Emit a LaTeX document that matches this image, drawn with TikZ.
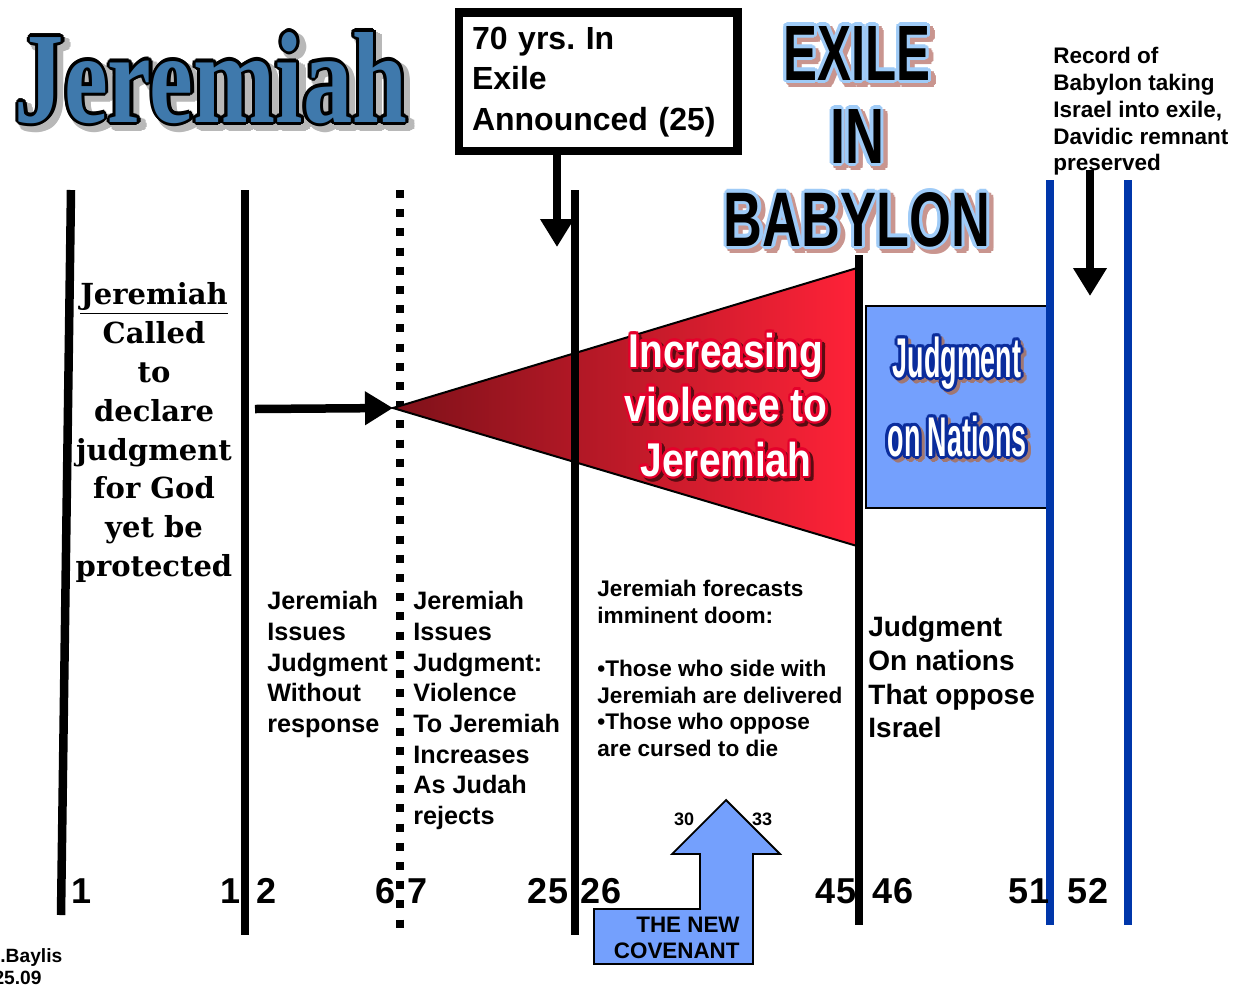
\documentclass[tikz,border=0pt]{standalone}
\usepackage{fontspec}
\setmainfont{Liberation Sans}
\newfontfamily\slabserif{DejaVu Serif}
\newfontfamily\headserif{Liberation Serif}
\usetikzlibrary{arrows.meta}
\frenchspacing

\definecolor{titleblue}{HTML}{3F79AC}
\definecolor{haloblue}{HTML}{9FCBF7}
\definecolor{shadowrose}{HTML}{C9958F}
\definecolor{deepred}{HTML}{7E1119}
\definecolor{brightred}{HTML}{FF2238}
\definecolor{edgered}{HTML}{E5002B}
\definecolor{boxblue}{HTML}{74A0FD}
\definecolor{lineblue}{HTML}{0036AA}
\definecolor{navyhalo}{HTML}{0A2C9C}

% text with a coloured ring round its letters:
% #1 name, #2 position, #3 node options, #4 ring colour, #5 ring radius, #6 face colour, #7 text
\newcommand\halotext[7]{%
  \foreach \hk in {0,30,...,330}{%
    \node[#3,text=#4,shift={(\hk:#5)}] (#1-\hk) at #2 {#7};}%
  \node[#3,text=#6] (#1) at #2 {#7};}

\begin{document}
\begin{tikzpicture}[x=0.5pt,y=-0.5pt,
  vbar/.style={line width=4.25pt},
  bluebar/.style={draw=lineblue,line width=4pt},
  dotbar/.style={line width=4pt,dash pattern=on 4pt off 5.6pt},
  bigarrow/.style={line width=4.25pt,-{Triangle[length=14pt,width=16pt]}},
  deco/.style={anchor=base,inner sep=0pt},
  colA/.style={anchor=north west,inner sep=0pt,align=left,font=\bfseries\fontsize{12.6pt}{15.35pt}\selectfont},
  colC/.style={anchor=north west,inner sep=0pt,align=left,font=\bfseries\fontsize{11.3pt}{13.3pt}\selectfont},
  colD/.style={anchor=north west,inner sep=0pt,align=left,font=\bfseries\fontsize{14pt}{16.85pt}\selectfont},
  recd/.style={anchor=north west,inner sep=0pt,align=left,font=\bfseries\fontsize{11.25pt}{13.4pt}\selectfont},
  num/.style={anchor=base,inner sep=0pt,font=\bfseries\fontsize{18pt}{18pt}\selectfont},
  small/.style={anchor=base,inner sep=0pt,font=\bfseries\fontsize{9pt}{9pt}\selectfont},
]
\useasboundingbox (0,0) rectangle (1240,986);
\fill[white] (0,0) rectangle (1240,986);

% timeline dividers
\coordinate (l1t) at (71,190);   \coordinate (l1b) at (61,915);
\coordinate (l2t) at (245,190);  \coordinate (l2b) at (245,935);
\coordinate (dtt) at (400,190);  \coordinate (dtb) at (400,935);
\coordinate (l25t) at (575,190); \coordinate (l25b) at (575,935);
\coordinate (l45t) at (859,255); \coordinate (l45b) at (859,925);
\coordinate (b51t) at (1050,180); \coordinate (b51b) at (1050,925);
\coordinate (b52t) at (1128,180); \coordinate (b52b) at (1128,925);

\draw[vbar] (l1t) -- (l1b);
\draw[vbar] (l2t) -- (l2b);
\draw[dotbar] (dtt) -- (dtb);

% widening wedge of violence
\coordinate (tip) at (393,408);
\coordinate (ttop) at (857,268);
\coordinate (tbot) at (857,546);
\shade[left color=deepred,right color=brightred] (tip) -- (ttop) -- (tbot) -- cycle;
\draw[line width=1pt,line join=miter] (tip) -- (ttop) -- (tbot) -- cycle;

\draw[vbar] (l25t) -- (l25b);
\draw[vbar] (l45t) -- (l45b);

% judgment on nations panel
\node[draw=black,line width=1.2pt,fill=boxblue,minimum width=91pt,minimum height=101pt,inner sep=0pt] (nations) at (957,407) {};

\draw[bluebar] (b51t) -- (b51b);
\draw[bluebar] (b52t) -- (b52b);

% arrow into the wedge
\coordinate (aL) at (255,409);
\draw[bigarrow] (aL) -- (tip);

% announcement box and its arrow
\node[draw=black,line width=4.25pt,text width=126.25pt,inner xsep=6.5pt,minimum height=69.25pt,align=left,
      font=\bfseries\fontsize{16pt}{20.25pt}\selectfont] (ann) at (598.25,81.75)
  {70 yrs. In\\Exile\\Announced (25)};
\coordinate (tA) at (557,247);
\draw[bigarrow] (ann.south -| tA) -- (tA);

% record of exile and its arrow
\node[recd] (rec) at (1053,47) {Record of\\Babylon taking\\Israel into exile,\\Davidic remnant\\preserved};
\coordinate (rA1) at (1090,170);
\coordinate (rA2) at (1090,296);
\draw[bigarrow] (rA1) -- (rA2);

% title
\halotext{titlesh}{(216,127)}{deco,font=\headserif\bfseries}{black!28}{2.2pt}{black!28}{\resizebox{196pt}{45pt}{Jeremiah}}
\halotext{title}{(211,122)}{deco,font=\headserif\bfseries}{black}{1.6pt}{titleblue}{\resizebox{196pt}{45pt}{Jeremiah}}

% exile heading
\halotext{exAsh}{(861,84)}{deco,font=\bfseries}{shadowrose}{1.8pt}{shadowrose}{\resizebox{73.5pt}{27pt}{EXILE}}
\halotext{exBsh}{(861,167)}{deco,font=\bfseries}{shadowrose}{1.8pt}{shadowrose}{\resizebox{27pt}{27pt}{IN}}
\halotext{exCsh}{(861,250)}{deco,font=\bfseries}{shadowrose}{1.8pt}{shadowrose}{\resizebox{133pt}{27pt}{BABYLON}}
\halotext{exA}{(857,80)}{deco,font=\bfseries}{haloblue}{1.6pt}{black}{\resizebox{73.5pt}{27pt}{EXILE}}
\halotext{exB}{(857,163)}{deco,font=\bfseries}{haloblue}{1.6pt}{black}{\resizebox{27pt}{27pt}{IN}}
\halotext{exC}{(857,246)}{deco,font=\bfseries}{haloblue}{1.6pt}{black}{\resizebox{133pt}{27pt}{BABYLON}}

% wedge caption
\halotext{viAsh}{(729,370)}{deco,font=\bfseries\fontsize{23.7pt}{23.7pt}\selectfont}{deepred!70!black}{1.2pt}{deepred!70!black}{\scalebox{0.82}[1]{Increasing}}
\halotext{viBsh}{(729,424)}{deco,font=\bfseries\fontsize{23.7pt}{23.7pt}\selectfont}{deepred!70!black}{1.2pt}{deepred!70!black}{\scalebox{0.82}[1]{violence to}}
\halotext{viCsh}{(729,479)}{deco,font=\bfseries\fontsize{23.7pt}{23.7pt}\selectfont}{deepred!70!black}{1.2pt}{deepred!70!black}{\scalebox{0.82}[1]{Jeremiah}}
\halotext{viA}{(726,367)}{deco,font=\bfseries\fontsize{23.7pt}{23.7pt}\selectfont}{edgered}{1.2pt}{white}{\scalebox{0.82}[1]{Increasing}}
\halotext{viB}{(726,421)}{deco,font=\bfseries\fontsize{23.7pt}{23.7pt}\selectfont}{edgered}{1.2pt}{white}{\scalebox{0.82}[1]{violence to}}
\halotext{viC}{(726,476)}{deco,font=\bfseries\fontsize{23.7pt}{23.7pt}\selectfont}{edgered}{1.2pt}{white}{\scalebox{0.82}[1]{Jeremiah}}

% panel caption
\halotext{naAsh}{(960,380)}{deco,font=\bfseries\fontsize{28pt}{28pt}\selectfont}{shadowrose!80!black}{1.5pt}{shadowrose!80!black}{\scalebox{0.48}[1]{Judgment}}
\halotext{naBsh}{(960,459)}{deco,font=\bfseries\fontsize{28pt}{28pt}\selectfont}{shadowrose!80!black}{1.5pt}{shadowrose!80!black}{\scalebox{0.48}[1]{on Nations}}
\halotext{naA}{(957,377)}{deco,font=\bfseries\fontsize{28pt}{28pt}\selectfont}{navyhalo}{1.5pt}{white}{\scalebox{0.48}[1]{Judgment}}
\halotext{naB}{(957,456)}{deco,font=\bfseries\fontsize{28pt}{28pt}\selectfont}{navyhalo}{1.5pt}{white}{\scalebox{0.48}[1]{on Nations}}

% left column
\node[anchor=north,inner sep=0pt,align=center,font=\slabserif\bfseries\fontsize{14.5pt}{19.45pt}\selectfont] (call) at (154,282)
  {\underline{Jeremiah}\\Called\\to\\declare\\judgment\\for God\\yet be\\protected};

% section descriptions
\node[colA] (secA) at (267,591) {Jeremiah\\Issues\\Judgment\\Without\\response};
\node[colA] (secB) at (413,591) {Jeremiah\\Issues\\Judgment:\\Violence\\To Jeremiah\\Increases\\As Judah\\rejects};
\node[colC] (secC) at (597,580) {Jeremiah forecasts\\imminent doom:\\[13.3pt]•Those who side with\\Jeremiah are delivered\\•Those who oppose\\are cursed to die};
\node[colD] (secD) at (868,616) {Judgment\\On nations\\That oppose\\Israel};

% chapter numbers
\node[num] (n1) at (82,903) {1};
\node[num] (n12a) at (231,903) {1};
\node[num] (n12b) at (267,903) {2};
\node[num] (n67a) at (386,903) {6};
\node[num] (n67b) at (418,903) {7};
\node[num] (n25) at (548,903) {25};
\node[num] (n26) at (601,903) {26};
\node[num] (n45) at (836,903) {45};
\node[num] (n46) at (893,903) {46};
\node[num] (n51) at (1029,903) {51};
\node[num] (n52) at (1088,903) {52};

% new covenant arrow
\draw[fill=boxblue,line width=0.9pt,line join=miter]
  (594,909) -- (700,909) -- (700,854) -- (672,854) -- (726,800) -- (780,854)
  -- (753,854) -- (753,964) -- (594,964) -- cycle;
\node[small] (c30) at (684,825) {30};
\node[small] (c33) at (762,825) {33};
\node[anchor=north east,inner sep=0pt,align=right,font=\bfseries\fontsize{11.2pt}{13pt}\selectfont] (cov) at (740,917)
  {THE NEW\\COVENANT};

% author note
\node[anchor=base west,inner sep=0pt,font=\bfseries\fontsize{9.6pt}{9.6pt}\selectfont] (auth) at (0,962) {.Baylis};
\node[anchor=base east,inner sep=0pt,font=\bfseries\fontsize{9.6pt}{9.6pt}\selectfont] (date) at (42,984) {25.09};
\end{tikzpicture}
\end{document}
